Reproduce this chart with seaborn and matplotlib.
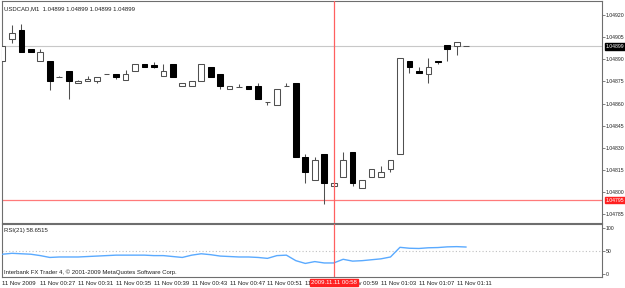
import numpy as np
import pandas as pd
import matplotlib
matplotlib.use("Agg")
import matplotlib.pyplot as plt
import seaborn as sns

# ---------------- data ----------------
opens = [1.04889, 1.04904, 1.04910, 1.04897, 1.04889, 1.04889, 1.04878, 1.04882, 1.04874, 1.04875,
         1.04875, 1.04880, 1.04880, 1.04876, 1.04882, 1.04887, 1.04886, 1.04879, 1.04887, 1.04872,
         1.04872, 1.04875, 1.04885, 1.04880, 1.04870, 1.04871, 1.04872, 1.04872, 1.04861, 1.04859,
         1.04872, 1.04874, 1.04824, 1.04808, 1.04826, 1.04804, 1.04810, 1.04827, 1.04803, 1.04810,
         1.04810, 1.04816, 1.04826, 1.04889, 1.04882, 1.04880, 1.04889, 1.04900, 1.04899, 1.04899]
highs = [1.04899, 1.04913, 1.04914, 1.04897, 1.04897, 1.04889, 1.04879, 1.04882, 1.04876, 1.04879,
         1.04878, 1.04880, 1.04880, 1.04883, 1.04887, 1.04887, 1.04888, 1.04887, 1.04887, 1.04874,
         1.04875, 1.04887, 1.04885, 1.04880, 1.04872, 1.04873, 1.04872, 1.04874, 1.04861, 1.04870,
         1.04874, 1.04874, 1.04826, 1.04824, 1.04826, 1.04806, 1.04827, 1.04827, 1.04808, 1.04816,
         1.04818, 1.04822, 1.04891, 1.04889, 1.04885, 1.04891, 1.04889, 1.04900, 1.04902, 1.04899]
lows = [1.04889, 1.04901, 1.04895, 1.04895, 1.04889, 1.04869, 1.04878, 1.04863, 1.04874, 1.04875,
        1.04874, 1.04880, 1.04877, 1.04876, 1.04882, 1.04885, 1.04884, 1.04879, 1.04878, 1.04872,
        1.04872, 1.04875, 1.04878, 1.04870, 1.04870, 1.04871, 1.04870, 1.04863, 1.04859, 1.04859,
        1.04872, 1.04824, 1.04806, 1.04808, 1.04792, 1.04804, 1.04810, 1.04804, 1.04803, 1.04810,
        1.04810, 1.04814, 1.04826, 1.04881, 1.04881, 1.04874, 1.04887, 1.04889, 1.04893, 1.04899]
closes = [1.04899, 1.04908, 1.04895, 1.04895, 1.04895, 1.04875, 1.04878, 1.04875, 1.04875, 1.04877,
          1.04878, 1.04880, 1.04878, 1.04880, 1.04887, 1.04885, 1.04885, 1.04882, 1.04878, 1.04874,
          1.04875, 1.04887, 1.04878, 1.04872, 1.04872, 1.04871, 1.04870, 1.04863, 1.04861, 1.04870,
          1.04872, 1.04824, 1.04814, 1.04822, 1.04806, 1.04806, 1.04822, 1.04806, 1.04808, 1.04816,
          1.04814, 1.04822, 1.04891, 1.04885, 1.04881, 1.04885, 1.04888, 1.04897, 1.04902, 1.04899]
rsi = [43, 45, 44, 43, 40, 36, 37, 37, 37, 38,
       39, 40, 41, 41, 41, 41, 40, 40, 38, 36,
       41, 44, 42, 39, 38, 37, 37, 36, 34, 40,
       41, 29, 23, 27, 24, 24, 32, 28, 29, 31,
       33, 37, 58, 56, 55.5, 57, 57.5, 59, 59.5, 58.65]
price_ticks = [1.04785, 1.04800, 1.04815, 1.04830, 1.04845, 1.04860, 1.04875, 1.04890, 1.04905, 1.04920]
rsi_ticks = [0, 50, 100]
time_tick_bars = [0, 4, 8, 12, 16, 20, 24, 28, 32, 36, 40, 44, 48]
time_tick_labels = ["11 Nov 2009", "11 Nov 00:27", "11 Nov 00:31", "11 Nov 00:35", "11 Nov 00:39",
                    "11 Nov 00:43", "11 Nov 00:47", "11 Nov 00:51", "11 Nov 00:55", "11 Nov 00:59",
                    "11 Nov 01:03", "11 Nov 01:07", "11 Nov 01:11"]
bid_price = 1.04899
red_level = 1.04795
cursor_bar = 35
cursor_label = "2009.11.11 00:58"

df = pd.DataFrame({"bar": np.arange(len(opens)), "open": opens, "high": highs,
                   "low": lows, "close": closes, "rsi": rsi})

# ---------------- style ----------------
sns.set_style("white")
plt.rcParams["font.family"] = ["Liberation Sans", "DejaVu Sans"]
FS = 4.3
FSP = 3.7
W, H = 625, 288
fig = plt.figure(figsize=(W / 100, H / 100), dpi=100)
fig.patch.set_facecolor("white")


def rect(x0, y0, x1, y1):
    return [x0 / W, 1 - y1 / H, (x1 - x0) / W, (y1 - y0) / H]


ax = fig.add_axes(rect(2, 1, 602, 222.5))
ax2 = fig.add_axes(rect(2, 224, 602, 277))

xmax = 63.35
for a in (ax, ax2):
    a.set_facecolor("white")
    a.set_xlim(-0.05, xmax)
    for s in a.spines.values():
        s.set_color("#6e6e6e")
        s.set_linewidth(0.8)

# ---------------- candles ----------------
ax.axhline(bid_price, color="#c8c8c8", lw=0.8, zorder=1)
ax.axhline(red_level, color="#ff7a7a", lw=0.9, zorder=1)
ax.vlines(df["bar"], df["low"], df["high"], color="#505050", lw=0.75, zorder=2)
up = df[df["close"] >= df["open"]]
dn = df[df["close"] < df["open"]]
ax.bar(up["bar"], up["close"] - up["open"], bottom=up["open"], width=0.6,
       color="white", edgecolor="#505050", linewidth=0.75, zorder=3)
ax.bar(dn["bar"], dn["close"] - dn["open"], bottom=dn["open"], width=0.6,
       color="black", edgecolor="black", linewidth=0.75, zorder=3)
ax.axvline(cursor_bar, color="#ff6060", lw=0.9, zorder=4)

ax.set_ylim(1.047795, 1.049295)
ax.set_yticks(price_ticks)
ax.set_yticklabels([f"{v:.5f}" for v in price_ticks])
ax.yaxis.tick_right()
ax.tick_params(axis="y", direction="out", length=2.0, width=0.6, color="#6e6e6e",
               labelsize=FSP, pad=0.5, labelcolor="#202020")
ax.set_xticks([])
ax.set_xlabel("")
ax.set_ylabel("")

ax.text(0.004, 0.975, "USDCAD,M1  1.04899 1.04899 1.04899 1.04899", transform=ax.transAxes,
        fontsize=FS, ha="left", va="top", color="#202020")

# price labels (boxed)
fig.text(605.5 / W, 1 - 46.5 / H, f"{bid_price:.5f}", fontsize=FSP, color="white", ha="left",
         va="center", bbox=dict(boxstyle="square,pad=0.12", fc="black", ec="black"))
fig.text(605.5 / W, 1 - 200 / H, f"{red_level:.5f}", fontsize=FSP, color="white", ha="left",
         va="center", bbox=dict(boxstyle="square,pad=0.12", fc="#ff2020", ec="#ff2020"))

# ---------------- RSI ----------------
ax2.axhline(50, color="#c0c0c0", lw=0.8, ls=(0, (1, 2)), zorder=1)
sns.lineplot(data=df, x="bar", y="rsi", ax=ax2, color="#5aaaff", lw=1.0, zorder=3)
ax2.axvline(cursor_bar, color="#ff6060", lw=0.9, zorder=4)
ax2.set_ylim(-6.5, 108.7)
ax2.set_yticks(rsi_ticks)
ax2.set_yticklabels([str(v) for v in rsi_ticks])
ax2.yaxis.tick_right()
ax2.tick_params(axis="y", direction="out", length=2.0, width=0.6, color="#6e6e6e",
                labelsize=FSP, pad=0.5, labelcolor="#202020")
ax2.set_xticks(time_tick_bars)
ax2.set_xticklabels(time_tick_labels)
ax2.tick_params(axis="x", direction="out", length=2.2, width=0.6, color="#6e6e6e",
                labelsize=FS, pad=0.6, labelcolor="#202020")
for lbl in ax2.get_xticklabels():
    lbl.set_ha("left")
ax2.set_xlabel("")
ax2.set_ylabel("")
ax2.text(0.003, 0.93, "RSI(21) 58.6515", transform=ax2.transAxes, fontsize=FS,
         ha="left", va="top", color="#202020")
ax2.text(0.003, 0.03, "Interbank FX Trader 4, \u00a9 2001-2009 MetaQuotes Software Corp.",
         transform=ax2.transAxes, fontsize=FS, ha="left", va="bottom", color="#202020")

# cursor time label
cx = 2 + (cursor_bar + 0.05) / (xmax + 0.05) * 600
fig.text(cx / W, 1 - 282.5 / H, cursor_label, fontsize=FS, color="white", ha="center",
         va="center", zorder=10,
         bbox=dict(boxstyle="square,pad=0.2", fc="#ff2020", ec="#ff2020"))

fig.savefig("out.png", dpi=100, facecolor="white")
